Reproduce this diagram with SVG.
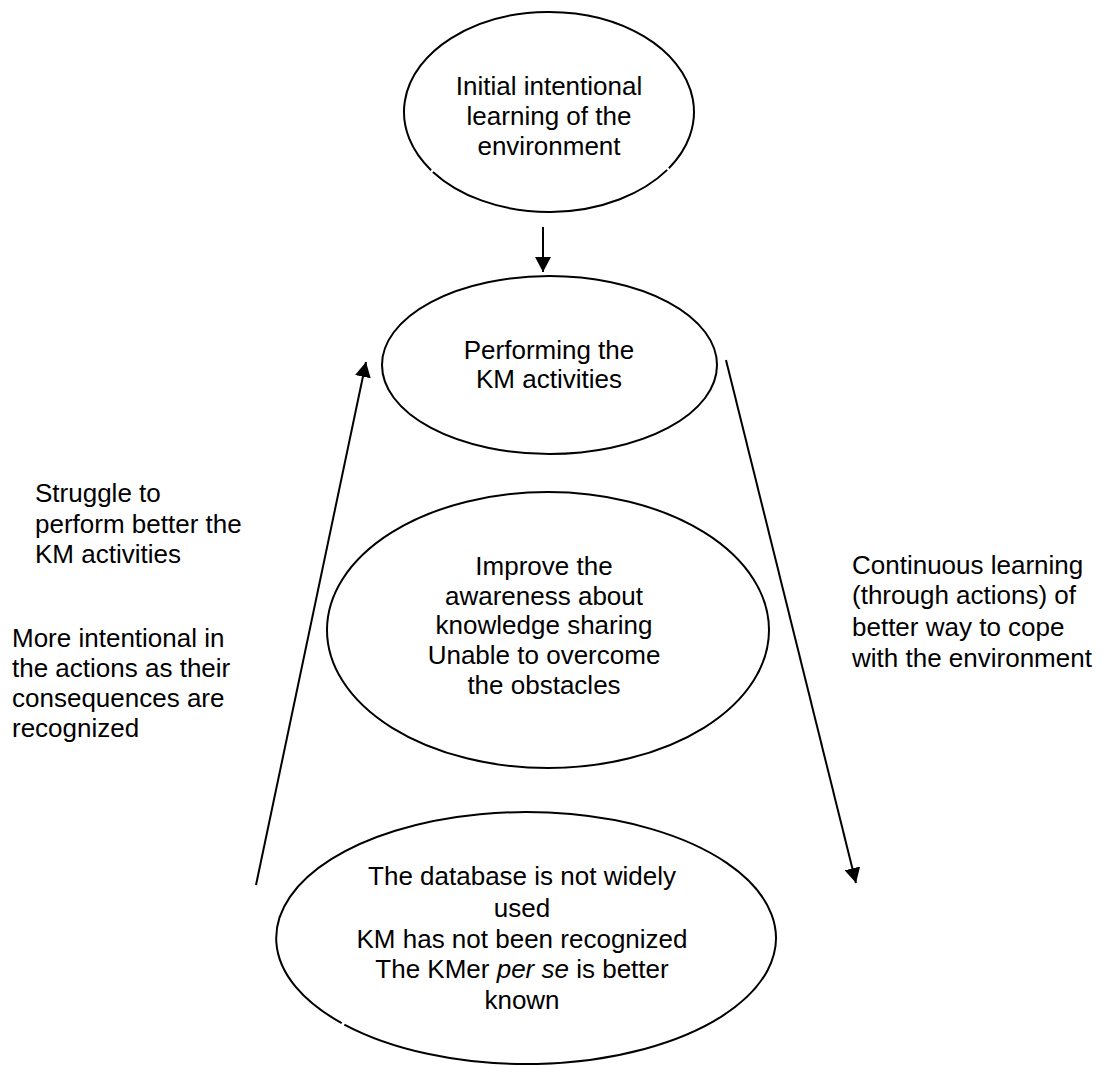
<svg xmlns="http://www.w3.org/2000/svg" width="1102" height="1066" viewBox="0 0 1102 1066">
<style>
.n{fill:none;stroke:#000;stroke-width:2}
.t{font-family:"Liberation Sans",Arial,sans-serif;font-size:26px;fill:#000}
.c{text-anchor:middle}
.e{stroke:#000;stroke-width:2;fill:none}
</style>
<defs>
<marker id="ah" markerWidth="16" markerHeight="16" refX="15" refY="8" orient="auto" markerUnits="userSpaceOnUse">
<path d="M0,0 L15,8 L0,16 Z" fill="#000"/>
</marker>
</defs>
<rect width="1102" height="1066" fill="#fff"/>
<g id="connectors">
<line class="e" x1="543" y1="227" x2="543" y2="272" marker-end="url(#ah)"/>
<line class="e" x1="256" y1="885" x2="366" y2="362" marker-end="url(#ah)"/>
<line class="e" x1="726" y1="360" x2="856" y2="883" marker-end="url(#ah)"/>
</g>
<g id="node-initial">
<path class="n" d="M667.2,169.9 A145,100 0 0 1 432.9,171.9 M431.1,170.2 A145,100 0 1 1 668.9,168.2"/>
<text class="t c" x="549" y="95">Initial intentional</text>
<text class="t c" x="549" y="125">learning of the</text>
<text class="t c" x="549" y="155">environment</text>
</g>
<g id="node-performing">
<ellipse class="n" cx="549.5" cy="365" rx="167.5" ry="89"/>
<text class="t c" x="549" y="359">Performing the</text>
<text class="t c" x="549" y="388">KM activities</text>
</g>
<g id="node-improve">
<ellipse class="n" cx="548" cy="630" rx="221" ry="138"/>
<text class="t c" x="544" y="575">Improve the</text>
<text class="t c" x="544" y="605">awareness about</text>
<text class="t c" x="544" y="634">knowledge sharing</text>
<text class="t c" x="544" y="664">Unable to overcome</text>
<text class="t c" x="544" y="694">the obstacles</text>
</g>
<g id="node-database">
<path class="n" d="M341.7,1023.1 A250,126 0 0 1 651,828.9 A250,126 0 1 1 344.35,1024.6"/>
<text class="t c" x="522" y="885">The database is not widely</text>
<text class="t c" x="522" y="917">used</text>
<text class="t c" x="522" y="948">KM has not been recognized</text>
<text class="t c" x="522" y="978">The KMer <tspan font-style="italic">per se</tspan> is better</text>
<text class="t c" x="522" y="1009">known</text>
</g>
<g id="label-struggle">
<text class="t" x="35" y="502">Struggle to</text>
<text class="t" x="35" y="533">perform better the</text>
<text class="t" x="35" y="563">KM activities</text>
</g>
<g id="label-more">
<text class="t" x="12" y="647">More intentional in</text>
<text class="t" x="12" y="677">the actions as their</text>
<text class="t" x="12" y="707">consequences are</text>
<text class="t" x="12" y="737">recognized</text>
</g>
<g id="label-continuous">
<text class="t" x="852" y="574">Continuous learning</text>
<text class="t" x="852" y="604">(through actions) of</text>
<text class="t" x="852" y="636">better way to cope</text>
<text class="t" x="852" y="667">with the environment</text>
</g>
</svg>
